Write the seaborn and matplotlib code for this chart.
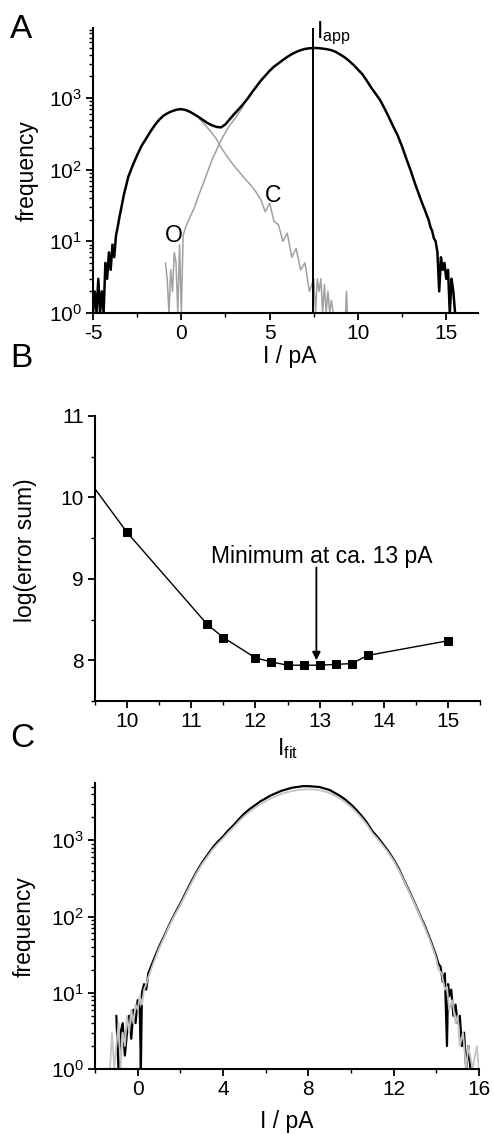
import numpy as np
import matplotlib
matplotlib.use("Agg")
import matplotlib.pyplot as plt
import seaborn as sns
from matplotlib.ticker import LogLocator, MultipleLocator, NullFormatter

# ---- panel A: all-point histogram with the two components ----
a_tot_x = np.r_[np.linspace(-5.0, -3.5, 16), np.linspace(-3.25, 13.25, 67), np.linspace(13.5, 15.5, 21)]
a_tot_y = [1, 2, 1, 3, 1, 2, 1, 5, 3, 7, 4, 9, 6, 12, 16, 22,
           45, 80, 115, 160, 215, 270, 340, 420, 500, 570,
           620, 660, 690, 700, 680, 640, 590, 540, 490, 445,
           415, 395, 390, 430, 510, 600, 700, 820, 980, 1200,
           1450, 1750, 2050, 2400, 2750, 3050, 3400, 3750, 4100, 4400,
           4650, 4850, 4950, 5000, 4980, 4900, 4800, 4650, 4400, 4050,
           3700, 3300, 2900, 2500, 2150, 1750, 1400, 1150, 940, 720,
           540, 400, 300, 210, 140, 95, 62,
           42, 36, 31, 27, 23, 20, 16, 14, 11, 10, 7, 2, 6, 4, 5, 3, 4, 1, 3, 2, 1]

# open component (rising from the left)
a_open_x = np.r_[[-0.9, -0.8, -0.7, -0.6, -0.5, -0.4, -0.3, -0.2, -0.1, 0.0, 0.1], np.linspace(0.25, 3.5, 14)]
a_open_y = [5, 3, 1, 4, 2, 7, 5, 1, 9, 1, 12,
            16, 22, 30, 45, 65, 95, 140, 190, 260, 330, 420, 500, 620, 760]

# closed component (decaying to the right)
a_closed_x = np.r_[np.linspace(1.0, 7.5, 27),
                   [7.6, 7.7, 7.8, 7.9, 8.0, 8.1, 8.2, 8.3, 8.4, 8.5, 8.6, 9.3, 9.35, 9.4]]
a_closed_y = [520, 450, 380, 320, 265, 205, 165, 135, 112, 95,
              80, 68, 58, 48, 38, 26, 34, 19, 17, 10,
              13, 6, 8, 4, 5, 2, 3,
              1, 3, 2, 3, 1, 2.5, 1, 2, 1, 1.5, 1, 1, 2, 1]
i_app = 7.45

# ---- panel B: error sum vs I_fit ----
b_x = [9.0, 10.0, 11.25, 11.5, 12.0, 12.25, 12.5, 12.75, 13.0, 13.25, 13.5, 13.75, 15.0]
b_y = [10.64, 9.57, 8.44, 8.28, 8.03, 7.98, 7.94, 7.94, 7.94, 7.95, 7.96, 8.06, 8.24]

# ---- panel C: measured vs simulated histogram ----
c_blk_x = np.r_[[-1.0, -0.9, -0.8, -0.7, -0.6, -0.5, -0.4, -0.3, -0.2, -0.1, 0.0, 0.1, 0.15, 0.2, 0.3, 0.4, 0.5],
                np.linspace(0.75, 13.75, 53),
                [14.0, 14.1, 14.2, 14.3, 14.4, 14.5, 14.55, 14.6, 14.7, 14.8, 14.9, 15.0, 15.1, 15.2, 15.3, 15.4, 15.5, 15.6]]
c_blk_y = [5, 1, 3, 4, 1.5, 3, 5, 2.5, 6, 4, 8, 6, 1, 10, 13, 11, 18,
           27, 40, 56, 80, 110, 148, 204, 282, 380, 500,
           630, 790, 955, 1120, 1350, 1580, 1900, 2240, 2570, 2880,
           3240, 3550, 3890, 4170, 4470, 4680, 4900, 5010, 5130, 5130,
           5070, 5010, 4790, 4570, 4170, 3800, 3390, 2950, 2510, 2090,
           1700, 1320, 1100, 890, 720, 560, 420, 295, 210, 148,
           102, 71, 47,
           30, 24, 22, 14, 18, 2, 13, 9, 11, 5, 7, 4, 5, 2, 3, 1, 2, 1]

c_gry_x = np.r_[[-1.3, -1.2, -1.1, -1.0, -0.9, -0.8, -0.7, -0.6, -0.5, -0.4, -0.3, -0.2, -0.1, 0.0, 0.1, 0.2, 0.3, 0.4, 0.5],
                np.linspace(0.75, 13.75, 53),
                [14.0, 14.1, 14.25, 14.4, 14.5, 14.6, 14.75, 14.9, 15.0, 15.1, 15.25, 15.4, 15.5, 15.7, 15.9, 16.0]]
c_gry_y = [1, 3, 1, 2, 4, 1, 3, 2, 5, 3, 6, 4, 7, 6, 9, 7, 11, 13, 16,
           25, 38, 54, 78, 106, 142, 196, 270, 365, 480,
           600, 750, 900, 1060, 1270, 1490, 1780, 2080, 2380, 2660,
           2980, 3260, 3560, 3810, 4070, 4260, 4430, 4540, 4640, 4660,
           4620, 4560, 4380, 4180, 3830, 3500, 3130, 2740, 2340, 1960,
           1600, 1250, 1040, 850, 690, 540, 405, 290, 205, 145,
           100, 68, 45,
           28, 20, 18, 11, 12, 6, 8, 4, 5, 2, 3, 1, 2, 1, 2, 1]

sns.set_theme(style="ticks")
plt.rcParams['font.family'] = ['Liberation Sans', 'DejaVu Sans']
plt.rcParams['mathtext.fontset'] = 'custom'
plt.rcParams['mathtext.rm'] = 'Liberation Sans'
plt.rcParams['mathtext.it'] = 'Liberation Sans:italic'
plt.rcParams['mathtext.bf'] = 'Liberation Sans:bold'
plt.rcParams['text.color'] = 'black'
plt.rcParams['axes.labelcolor'] = 'black'
plt.rcParams['axes.unicode_minus'] = False

LABEL = 16.5
TICK = 15

fig = plt.figure(figsize=(4.94, 11.34), dpi=100)
axA = fig.add_axes([0.1883, 0.7240, 0.7794, 0.2513])
axB = fig.add_axes([0.1923, 0.3818, 0.7794, 0.2514])
axC = fig.add_axes([0.1923, 0.0573, 0.7773, 0.2520])


def style(ax):
    sns.despine(ax=ax)
    for s in ['left', 'bottom']:
        ax.spines[s].set_linewidth(1.5)
        ax.spines[s].set_color('black')
    ax.tick_params(which='major', length=5, width=1.3, direction='out',
                   labelsize=TICK, colors='black', pad=3)
    ax.tick_params(which='minor', length=3, width=1.0, direction='out', colors='black')


def log_ticks(ax):
    ax.yaxis.set_major_locator(LogLocator(base=10, numticks=10))
    ax.yaxis.set_minor_locator(LogLocator(base=10, subs=np.arange(2, 10), numticks=20))
    ax.yaxis.set_minor_formatter(NullFormatter())


# A
sns.lineplot(x=a_open_x, y=a_open_y, ax=axA, color='#a0a0a0', lw=1.1, estimator=None, sort=False)
sns.lineplot(x=a_closed_x, y=a_closed_y, ax=axA, color='#a0a0a0', lw=1.1, estimator=None, sort=False)
sns.lineplot(x=a_tot_x, y=a_tot_y, ax=axA, color='black', lw=1.8, estimator=None, sort=False)
axA.axvline(i_app, color='black', lw=1.4)
axA.set_yscale('log')
axA.set_xlim(-5, 16.8)
axA.set_ylim(1, 9500)
axA.xaxis.set_major_locator(MultipleLocator(5))
axA.xaxis.set_minor_locator(MultipleLocator(2.5))
log_ticks(axA)
style(axA)
axA.text(5.2, 43, "C", ha='center', va='center', fontsize=LABEL)
axA.text(-0.41, 11.9, "O", ha='center', va='center', fontsize=LABEL)
axA.text(i_app + 0.17, 6900, r"I$_{\mathrm{app}}$", fontsize=LABEL, va='baseline', clip_on=False)
axA.set_xlabel("I / pA", fontsize=LABEL)
axA.set_ylabel("frequency", fontsize=LABEL)
axA.xaxis.set_label_coords(0.512, -0.112)
axA.yaxis.set_label_coords(-0.141, 0.5)

# B
sns.lineplot(x=b_x, y=b_y, ax=axB, color='black', lw=1.0, marker='s', markersize=6.2,
             markeredgecolor='black', estimator=None, sort=False)
axB.set_xlim(9.5, 15.5)
axB.set_ylim(7.5, 11)
axB.xaxis.set_major_locator(MultipleLocator(1))
axB.xaxis.set_minor_locator(MultipleLocator(0.5))
axB.yaxis.set_major_locator(MultipleLocator(1))
axB.yaxis.set_minor_locator(MultipleLocator(0.5))
style(axB)
axB.text(13.04, 9.2, "Minimum at ca. 13 pA", ha='center', va='baseline', fontsize=LABEL)
axB.annotate("", xy=(12.95, 8.0), xytext=(12.95, 9.14),
             arrowprops=dict(arrowstyle='-|>', color='black', lw=1.3,
                             mutation_scale=12, shrinkA=0, shrinkB=0))
axB.set_xlabel(r"I$_{\mathrm{fit}}$", fontsize=LABEL)
axB.set_ylabel("log(error sum)", fontsize=LABEL)
axB.xaxis.set_label_coords(0.50, -0.123)
axB.yaxis.set_label_coords(-0.151, 0.53)

# C
sns.lineplot(x=c_blk_x, y=c_blk_y, ax=axC, color='black', lw=1.6, estimator=None, sort=False)
sns.lineplot(x=c_gry_x, y=c_gry_y, ax=axC, color='#c4c4c4', lw=1.3, estimator=None, sort=False)
axC.set_yscale('log')
axC.set_xlim(-2, 16)
axC.set_ylim(1, 5600)
axC.xaxis.set_major_locator(MultipleLocator(4))
axC.xaxis.set_minor_locator(MultipleLocator(2))
log_ticks(axC)
style(axC)
axC.set_xlabel("I / pA", fontsize=LABEL)
axC.set_ylabel("frequency", fontsize=LABEL)
axC.xaxis.set_label_coords(0.50, -0.143)
axC.yaxis.set_label_coords(-0.155, 0.5)

# panel letters
for letter, ypix in [("A", 38), ("B", 367), ("C", 747)]:
    fig.text(10 / 494, 1 - ypix / 1134, letter, fontsize=24, ha='left', va='baseline')

fig.savefig("out.png", dpi=100)
